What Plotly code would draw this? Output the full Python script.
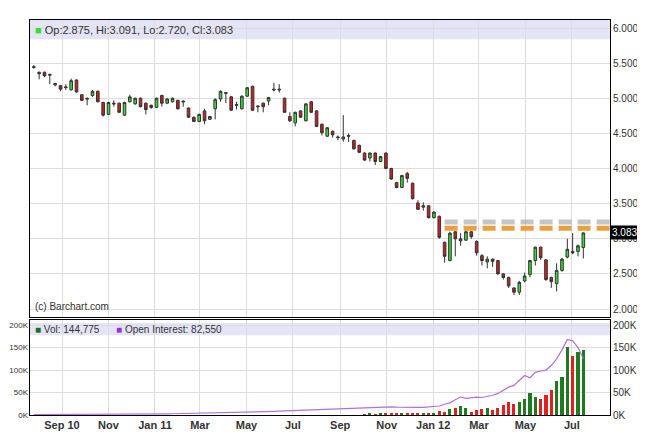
import plotly.graph_objects as go
import pandas as pd

start_week = "2010-07-26"
opens = [5.45,5.37,5.37,5.34,5.19,5.18,5.15,5.12,5.26,5.05,5.00,5.04,5.10,4.94,4.77,4.93,4.93,4.76,4.95,4.92,5.00,4.93,4.90,4.87,5.04,4.93,4.95,4.97,4.96,4.86,
         4.73,4.67,4.82,4.70,4.85,4.99,5.08,5.02,4.91,4.85,5.03,5.17,4.89,4.93,4.96,5.13,5.13,5.00,4.74,4.65,4.82,4.68,4.95,4.82,4.63,4.46,4.53,4.45,4.42,
         4.47,4.40,4.33,4.22,4.15,4.22,4.10,4.22,4.00,3.80,3.73,3.93,3.79,3.51,3.45,3.47,3.30,
         3.32,2.95,2.69,3.10,2.97,2.98,3.10,2.96,2.76,2.67,2.71,2.69,2.50,2.45,2.30,2.24,2.40,2.49,2.69,2.88,2.70,2.45,2.36,2.55,2.74,2.82,2.82,2.875]
highs = [5.47,5.38,5.38,5.35,5.22,5.19,5.20,5.28,5.27,5.06,5.01,5.12,5.11,4.95,4.95,4.97,4.94,4.95,5.05,5.01,5.01,4.94,4.91,5.01,5.05,5.00,5.01,4.98,4.97,4.87,
         4.74,4.78,4.85,4.75,5.00,5.11,5.09,5.03,4.95,5.04,5.16,5.18,4.90,4.94,5.02,5.22,5.20,5.01,4.80,4.81,4.83,4.93,4.96,4.83,4.64,4.59,4.54,4.47,4.76,
         4.50,4.41,4.34,4.23,4.23,4.23,4.18,4.23,4.01,3.81,3.91,3.95,3.80,3.55,3.52,3.48,3.39,
         3.33,2.96,3.10,3.11,3.08,3.12,3.11,2.98,2.78,2.75,2.72,2.70,2.51,2.46,2.31,2.40,2.52,2.70,2.89,2.89,2.71,2.46,2.65,2.73,3.00,3.08,2.92,3.091]
lows = [5.42,5.27,5.30,5.20,5.17,5.10,5.12,5.11,5.08,4.96,4.90,5.02,4.94,4.74,4.76,4.88,4.79,4.75,4.94,4.91,4.87,4.77,4.85,4.86,4.88,4.92,4.94,4.84,4.88,4.72,
        4.66,4.66,4.63,4.69,4.70,4.95,4.93,4.82,4.84,4.84,5.02,4.82,4.80,4.80,4.90,5.10,5.08,4.79,4.66,4.60,4.72,4.67,4.79,4.59,4.47,4.45,4.44,4.40,4.38,
        4.38,4.27,4.22,4.11,4.10,4.05,4.09,3.99,3.84,3.72,3.72,3.80,3.56,3.41,3.40,3.29,3.29,
        3.00,2.66,2.68,2.75,2.90,2.97,3.00,2.76,2.62,2.58,2.60,2.49,2.42,2.30,2.20,2.20,2.38,2.45,2.62,2.70,2.40,2.30,2.25,2.53,2.72,2.78,2.75,2.720]
closes = [5.44,5.35,5.32,5.33,5.21,5.13,5.16,5.25,5.09,4.97,4.99,5.10,4.95,4.76,4.94,4.92,4.80,4.94,5.02,5.00,4.88,4.84,4.87,5.00,4.93,4.99,5.00,4.85,4.95,4.73,
          4.67,4.77,4.68,4.74,4.98,5.10,5.07,4.83,4.90,5.03,5.15,4.83,4.88,4.88,5.01,5.12,5.12,4.80,4.68,4.80,4.73,4.92,4.80,4.60,4.51,4.58,4.48,4.44,4.45,
          4.46,4.28,4.23,4.12,4.22,4.10,4.17,4.00,3.85,3.73,3.90,3.86,3.57,3.42,3.47,3.30,3.38,
          3.02,2.75,3.08,3.00,3.00,3.10,3.03,2.80,2.69,2.71,2.68,2.50,2.45,2.33,2.24,2.38,2.47,2.69,2.88,2.73,2.42,2.39,2.55,2.71,2.85,2.80,2.90,3.083]
volume_k = [0]*62 + [1,2,1,2,3,2,3,2,2,3,2,2,3,4] + \
    [8.7,7,13,15,19,15,7,11,13,15,11,16,22,29,23,29,35,49,39,35,43,55,75,85,152,130,139,145]
open_interest_k = [1,1,1,1,1,1.2,1.2,1.3,1.3,1.4,1.4,1.5,1.5,1.6,1.6,1.7,1.8,1.8,1.9,2.0,
    2.0,2.1,2.2,2.3,2.5,2.6,2.8,3.0,3.2,3.5,3.8,4.0,4.3,4.6,5.0,5.3,5.6,5.9,6.2,6.5,
    6.8,7.0,7.2,7.5,7.8,8.0,8.5,9,9.5,10,10.3,10.6,11,11.3,11.6,12,12.3,12.6,13,13.5,
    14,14.5,15,15.5,16,17,18.5,18,17.5,17,16.5,16.5,17,17,17.5,18,20,24,27,34,
    40,37,38,40,39,41,44,48,55,62,66,78,88,83,95,98,100,110,125,145,168,165,150,125]
resistance_level = 3.15
shadow_level = 3.24
tick_dates = ["2010-09-01","2010-11-01","2011-01-01","2011-03-01","2011-05-01","2011-07-01",
              "2011-09-01","2011-11-01","2012-01-01","2012-03-01","2012-05-01","2012-07-01"]
tick_labels = ["Sep 10","Nov","Jan 11","Mar","May","Jul","Sep","Nov","Jan 12","Mar","May","Jul"]
price_ticks = [2.0,2.5,3.0,3.5,4.0,4.5,5.0,5.5,6.0]
vol_ticks = [0,50,100,150,200]

n = len(closes)
dates = pd.date_range(start_week, periods=n, freq="7D")
vol_colors = ["#1f7a1f" if c >= o else "#e02020" for o, c in zip(opens, closes)]

fig = go.Figure()
fig.add_trace(go.Candlestick(x=dates, open=opens, high=highs, low=lows, close=closes,
    increasing=dict(fillcolor="#33dd33", line=dict(color="#333333", width=1)),
    decreasing=dict(fillcolor="#cc1f1f", line=dict(color="#333333", width=1)),
    whiskerwidth=0, xaxis="x", yaxis="y", showlegend=False))
fig.add_trace(go.Bar(x=dates, y=volume_k, marker=dict(color=vol_colors, line=dict(width=0)),
    width=4*86400000, xaxis="x2", yaxis="y2", showlegend=False))
fig.add_trace(go.Scatter(x=dates, y=open_interest_k, mode="lines",
    line=dict(color="#b070e0", width=1.2), xaxis="x2", yaxis="y2", showlegend=False))

xr = ["2010-07-21", "2012-08-20"]
font = dict(family="Liberation Sans, Arial", size=10, color="#333")
common_x = dict(range=xr, type="date", tickvals=tick_dates, showgrid=True, gridcolor="#dddddd",
                showline=True, linecolor="black", mirror=True, ticks="", zeroline=False, automargin=False)
fig.update_layout(
    width=645, height=444, margin=dict(l=22, r=43, t=12, b=37),
    paper_bgcolor="white", plot_bgcolor="white", font=font, bargap=0,
    xaxis=dict(common_x, domain=[0, 1], anchor="y", showticklabels=False, rangeslider=dict(visible=False)),
    xaxis2=dict(common_x, domain=[0, 1], anchor="y2", ticktext=[f"<b>{t}</b>" for t in tick_labels],
                tickfont=dict(family="Liberation Sans Narrow, Liberation Sans", size=11, color="#333")),
    yaxis=dict(domain=[0.248, 1], range=[1.886, 6.114], side="right", tickvals=price_ticks,
               ticktext=[f"{v:.3f}" for v in price_ticks], showgrid=True, gridcolor="#dddddd",
               showline=True, linecolor="black", mirror=True, ticks="", zeroline=False, automargin=False),
    yaxis2=dict(domain=[0, 0.24], range=[0, 211], side="right", tickvals=vol_ticks,
                ticktext=[f"{v}K" for v in vol_ticks], showgrid=True, gridcolor="#dddddd",
                showline=True, linecolor="black", mirror=True, ticks="", zeroline=False, automargin=False),
    yaxis3=dict(domain=[0, 0.24], range=[0, 211], side="left", overlaying="y2", anchor="x2",
                tickvals=vol_ticks, ticktext=[f"{v}K" for v in vol_ticks], showgrid=False, automargin=False,
                tickfont=dict(family="Liberation Sans Narrow, Liberation Sans", size=8), ticklabelstandoff=1),
)
fig.add_trace(go.Scatter(x=[dates[0]], y=[0], mode="markers", marker=dict(opacity=0),
    xaxis="x2", yaxis="y3", showlegend=False, hoverinfo="skip"))

fig.add_shape(type="rect", xref="x domain", yref="y domain", x0=0, x1=1, y0=0.935, y1=1,
              fillcolor="#e4e4f6", line=dict(width=0), layer="below")
fig.add_shape(type="rect", xref="x2 domain", yref="y2 domain", x0=0, x1=1, y0=0.84, y1=0.97,
              fillcolor="#e4e4f6", line=dict(width=0), layer="below")
fig.add_shape(type="line", xref="x", yref="y", x0=dates[77], x1=xr[1], y0=shadow_level, y1=shadow_level,
              line=dict(color="rgba(150,150,150,0.55)", width=5, dash="13px,6px"))
fig.add_shape(type="line", xref="x", yref="y", x0=dates[77], x1=xr[1], y0=resistance_level, y1=resistance_level,
              line=dict(color="#e8a040", width=5, dash="13px,6px"))

fig.add_annotation(xref="paper", yref="paper", x=1.0, y=(closes[-1]-1.886)/(6.114-1.886)*0.752+0.248,
                   xanchor="left", yanchor="middle", text=f"{closes[-1]:.3f}", showarrow=False,
                   bgcolor="black", font=dict(color="white", size=10), borderpad=1)
fig.add_annotation(xref="paper", yref="paper", x=0.005, y=0.995, xanchor="left", yanchor="top",
                   showarrow=False, font=dict(size=11, color="#333"),
                   text=f"<span style='color:#33dd33'>■</span> Op:{opens[-1]:.3f}, Hi:{highs[-1]:.3f}, Lo:{lows[-1]:.3f}, Cl:{closes[-1]:.3f}")
fig.add_annotation(xref="paper", yref="paper", x=0.005, y=0.255, xanchor="left", yanchor="bottom",
                   showarrow=False, font=dict(size=10, color="#333"), text="(c) Barchart.com")
fig.add_annotation(xref="paper", yref="paper", x=0.005, y=0.235, xanchor="left", yanchor="top",
                   showarrow=False, font=dict(size=10, color="#333"),
                   text="<span style='color:#1f6b1f'>■</span> Vol: 144,775&nbsp;&nbsp;&nbsp;&nbsp;&nbsp;&nbsp;<span style='color:#9b30e0'>■</span> Open Interest: 82,550")

fig.write_html("out.html")
